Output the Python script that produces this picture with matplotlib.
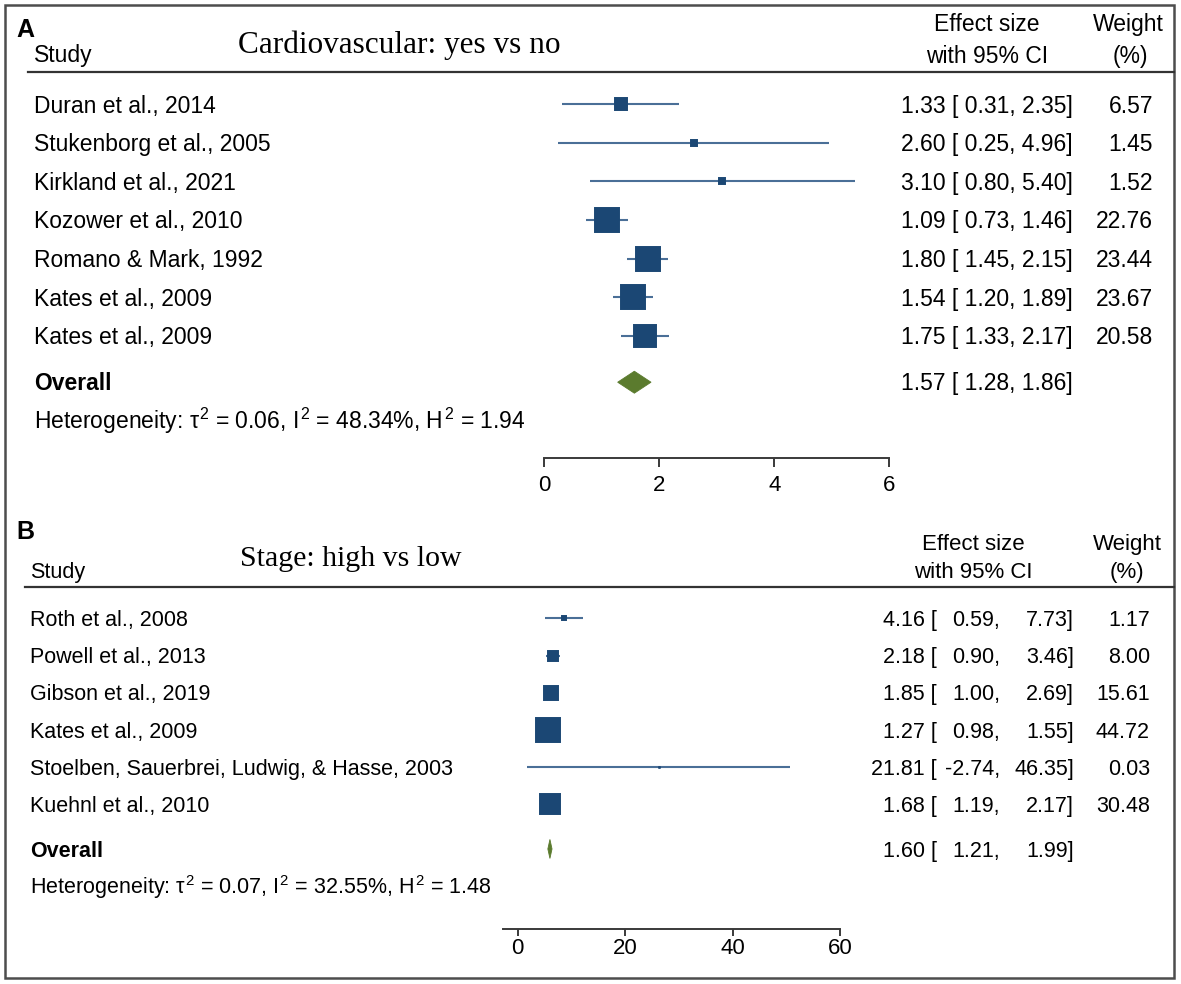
import numpy as np
import matplotlib

matplotlib.use("Agg")
import matplotlib.pyplot as plt
from matplotlib.lines import Line2D
from matplotlib.patches import Rectangle

# ---- panel A: cardiovascular yes vs no ----
a_studies = [
    "Duran et al., 2014",
    "Stukenborg et al., 2005",
    "Kirkland et al., 2021",
    "Kozower et al., 2010",
    "Romano & Mark, 1992",
    "Kates et al., 2009",
    "Kates et al., 2009",
]
a_es = [1.33, 2.60, 3.10, 1.09, 1.80, 1.54, 1.75]
a_lo = [0.31, 0.25, 0.80, 0.73, 1.45, 1.20, 1.33]
a_hi = [2.35, 4.96, 5.40, 1.46, 2.15, 1.89, 2.17]
a_weight = [6.57, 1.45, 1.52, 22.76, 23.44, 23.67, 20.58]
a_overall = (1.57, 1.28, 1.86)
a_het = ("0.06", "48.34", "1.94")
a_ticks = [0, 2, 4, 6]

# ---- panel B: stage high vs low ----
b_studies = [
    "Roth et al., 2008",
    "Powell et al., 2013",
    "Gibson et al., 2019",
    "Kates et al., 2009",
    "Stoelben, Sauerbrei, Ludwig, & Hasse, 2003",
    "Kuehnl et al., 2010",
]
b_es = [4.16, 2.18, 1.85, 1.27, 21.81, 1.68]
b_lo = [0.59, 0.90, 1.00, 0.98, -2.74, 1.19]
b_hi = [7.73, 3.46, 2.69, 1.55, 46.35, 2.17]
b_weight = [1.17, 8.00, 15.61, 44.72, 0.03, 30.48]
b_overall = (1.60, 1.21, 1.99)
b_het = ("0.07", "32.55", "1.48")
b_ticks = [0, 20, 40, 60]
# in the source figure the panel B marks sit ~4.4 units right of the printed estimates
b_plot_shift = 4.4

W, H = 1181, 984
NAVY = "#1B4774"
CI_COL = "#4A6F97"
GREEN = "#5B7B2E"
AXIS_COL = "#3a3a3a"

plt.rcParams["font.family"] = ["Liberation Sans", "DejaVu Sans"]
plt.rcParams["mathtext.fontset"] = "custom"
plt.rcParams["mathtext.rm"] = "Liberation Sans"
plt.rcParams["mathtext.it"] = "Liberation Sans"
plt.rcParams["mathtext.bf"] = "Liberation Sans:bold"

fig = plt.figure(figsize=(W / 100, H / 100), dpi=100)


def ftext(x, y, s, fs, **kw):
    # x, y in image pixels (y from top), baseline anchored
    kw.setdefault("va", "baseline")
    fig.text(x / W, 1 - y / H, s, fontsize=fs, **kw)


def hrule(x0, x1, y, lw=1.6):
    fig.add_artist(Line2D([x0 / W, x1 / W], [1 - y / H] * 2, transform=fig.transFigure,
                          color="#333333", lw=lw))


def forest(cfg):
    n = len(cfg["studies"])
    fs = cfg["fs"]
    step = cfg["row_step"]
    left = cfg["x0"] + cfg["xlim"][0] * cfg["ppu"]
    right = cfg["x0"] + cfg["xlim"][1] * cfg["ppu"]
    top, axis_y, row0 = cfg["top"], cfg["axis_y"], cfg["row0"]
    ax = fig.add_axes([left / W, 1 - axis_y / H, (right - left) / W, (axis_y - top) / H])
    ax.set_xlim(*cfg["xlim"])
    ax.set_ylim((axis_y - row0) / step, (top - row0) / step)
    ax.patch.set_alpha(0)

    shift = cfg["shift"]
    es = np.array(cfg["es"]) + shift
    lo = np.array(cfg["lo"]) + shift
    hi = np.array(cfg["hi"]) + shift
    w = np.array(cfg["weight"])
    rows = np.arange(n)
    ax.hlines(rows, lo, hi, color=CI_COL, lw=1.5, zorder=2, clip_on=False)
    sides = 24.5 * np.sqrt(w / w.max())
    for r, x, s in zip(rows, es, sides):
        ax.plot([x], [r], "s", ms=s * 0.72, mfc=NAVY, mec=NAVY, mew=1.4, zorder=3,
                clip_on=False)

    o_es, o_lo, o_hi = cfg["overall"]
    ro = n + 0.2
    h = cfg["diamond_h"] / step
    ax.fill([o_lo + shift, o_es + shift, o_hi + shift, o_es + shift],
            [ro, ro - h, ro, ro + h], color=GREEN, lw=0.6, ec=GREEN, zorder=3)

    for side in ["top", "right", "left"]:
        ax.spines[side].set_visible(False)
    ax.spines["bottom"].set_bounds(cfg["axis_lim"][0], cfg["axis_lim"][1])
    ax.spines["bottom"].set_color(AXIS_COL)
    ax.spines["bottom"].set_linewidth(1.4)
    ax.set_yticks([])
    ax.set_xticks(cfg["ticks"])
    ax.set_xticklabels([str(t) for t in cfg["ticks"]])
    ax.tick_params(axis="x", direction="out", length=cfg["tick_len"], width=1.4,
                   color=AXIS_COL, labelsize=16, pad=cfg["tick_pad"])

    cap = fs / 72 * 100 * 0.716 / 2

    def rtext(x, r, s, **kw):
        ax.annotate(s, xy=(x, r), xycoords=("figure pixels", "data"), xytext=(0, -cap),
                    textcoords="offset pixels", va="baseline", fontsize=fs, **kw)

    c = cfg["cols"]

    def ci_text(r, e, l, u):
        if cfg["padded"]:
            rtext(c[0], r, f"{e:.2f} [", ha="right")
            rtext(c[1], r, f"{l:.2f},", ha="right")
            rtext(c[2], r, f"{u:.2f}]", ha="right")
        else:
            rtext(c[2], r, f"{e:.2f} [ {l:.2f}, {u:.2f}]", ha="right")

    for r in rows:
        rtext(cfg["label_x"], r, cfg["studies"][r])
        ci_text(r, cfg["es"][r], cfg["lo"][r], cfg["hi"][r])
        rtext(c[3], r, f"{cfg['weight'][r]:.2f}", ha="right")
    rtext(cfg["label_x"], ro, "Overall", fontweight="bold")
    ci_text(ro, o_es, o_lo, o_hi)
    t2, i2, h2 = cfg["het"]
    rtext(cfg["label_x"], n + 1.2,
          rf"Heterogeneity: $\tau^2$ = {t2}, $I^2$ = {i2}%, $H^2$ = {h2}")
    return ax


# ---- panel A ----
FA = 16.5
ftext(16, 37, "A", 18, fontweight="bold")
ftext(34, 62, "Study", FA)
ftext(237.7, 53.3, "Cardiovascular: yes vs no", 22.5, family="Liberation Serif")
ftext(987, 31, "Effect size", FA, ha="center")
ftext(987, 63, "with 95% CI", FA, ha="center")
ftext(1128.5, 31, "Weight", FA, ha="center")
ftext(1130, 63, "(%)", FA, ha="center")
hrule(28, 1174, 71.7)
forest(dict(studies=a_studies, es=a_es, lo=a_lo, hi=a_hi, weight=a_weight,
            overall=a_overall, het=a_het, ticks=a_ticks, shift=0.0, fs=FA,
            x0=544, ppu=57.55, xlim=(0, 6), axis_lim=(0, 6),
            top=75, axis_y=457.7, row0=104.3, row_step=38.6, diamond_h=11,
            tick_len=6.5, tick_pad=6, label_x=34, padded=False,
            cols=(951, 1000.7, 1073, 1153)))

# ---- panel B ----
FB = 15.5
ftext(16, 539, "B", 18, fontweight="bold")
ftext(30, 578, "Study", FB)
ftext(240, 566, "Stage: high vs low", 21.5, family="Liberation Serif")
ftext(973, 550, "Effect size", 16, ha="center")
ftext(973, 578, "with 95% CI", 16, ha="center")
ftext(1127.3, 550, "Weight", 16, ha="center")
ftext(1127.3, 578, "(%)", 16, ha="center")
hrule(25, 1174, 587)
forest(dict(studies=b_studies, es=b_es, lo=b_lo, hi=b_hi, weight=b_weight,
            overall=b_overall, het=b_het, ticks=b_ticks, shift=b_plot_shift, fs=FB,
            x0=517.7, ppu=5.372, xlim=(-2.74, 60), axis_lim=(-2.74, 60),
            top=592, axis_y=929.3, row0=618.3, row_step=37.2, diamond_h=9.5,
            tick_len=5, tick_pad=1, label_x=30, padded=True,
            cols=(937, 1000, 1074, 1150)))

fig.add_artist(Rectangle((5 / W, 1 - 978 / H), (1174 - 5) / W, (978 - 5) / H,
                         transform=fig.transFigure, fill=False, ec="#4d4d4d", lw=1.8))

fig.savefig("out.png", dpi=100)
